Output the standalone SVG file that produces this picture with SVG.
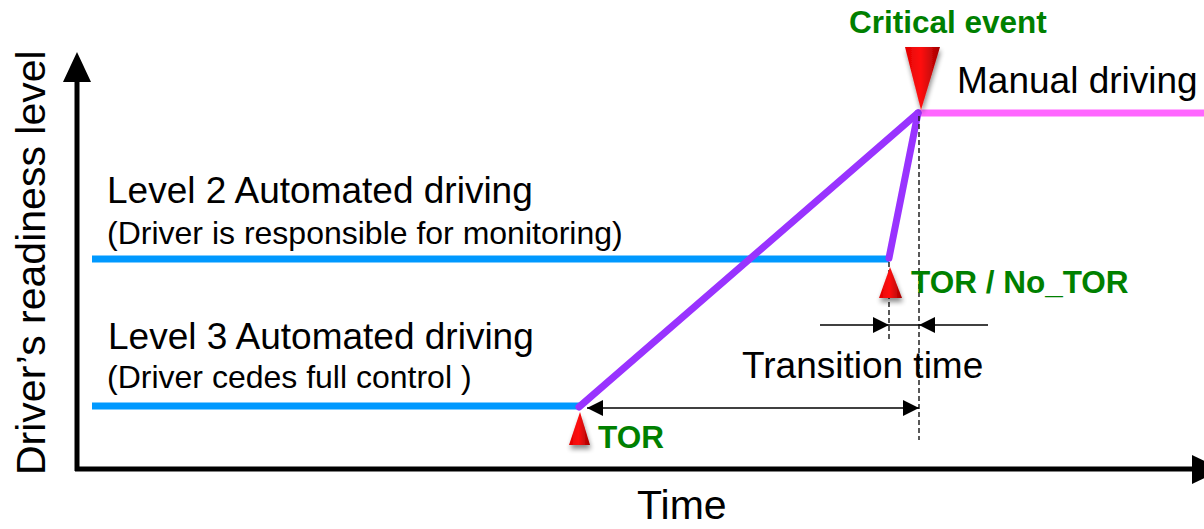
<svg xmlns="http://www.w3.org/2000/svg" width="1204" height="529" viewBox="0 0 1204 529">
<style>
.lbl{font-family:"Liberation Sans",Arial,sans-serif;fill:#000}
.big{font-size:37px}
.sub{font-size:32px}
.grn{font-family:"Liberation Sans",Arial,sans-serif;font-weight:bold;font-size:31.5px;fill:#008000}
.axis{stroke:#000;stroke-width:5;fill:none}
.blue{stroke:#0099FF;stroke-width:7;fill:none}
.purple{stroke:#9933FF;stroke-width:7;fill:none;stroke-linecap:round}
.magenta{stroke:#FF66FF;stroke-width:7;fill:none}
.dash{stroke:#222;stroke-width:1.5;stroke-dasharray:5 3;fill:none}
.dim{stroke:#000;stroke-width:1.5;fill:none}
</style>
<defs>
<linearGradient id="redg" x1="0" y1="0" x2="1" y2="0">
<stop offset="0" stop-color="#E00000"/>
<stop offset="0.45" stop-color="#FF1010"/>
<stop offset="1" stop-color="#A00000"/>
</linearGradient>
<filter id="shadow" x="-50%" y="-50%" width="200%" height="200%">
<feGaussianBlur in="SourceAlpha" stdDeviation="2.5"/>
<feOffset dx="1" dy="4" result="b"/>
<feComponentTransfer><feFuncA type="linear" slope="0.45"/></feComponentTransfer>
<feMerge><feMergeNode/><feMergeNode in="SourceGraphic"/></feMerge>
</filter>
<marker id="ah" viewBox="0 0 16 16" refX="16" refY="8" markerWidth="16" markerHeight="16" markerUnits="userSpaceOnUse" orient="auto-start-reverse">
<path d="M0,0 L16,8 L0,16 Z" fill="#000"/>
</marker>
</defs>

<g id="axes">
<line class="axis" x1="77" y1="80" x2="77" y2="471"/>
<line class="axis" x1="75" y1="469" x2="1194" y2="469"/>
<polygon points="77,52 63,82 91,82" fill="#000"/>
<polygon points="1192,455 1222,469.5 1192,484" fill="#000"/>
<text class="lbl" font-size="41" transform="translate(45,475) rotate(-90)">Driver’s readiness level</text>
<text class="lbl" font-size="41" x="637" y="519">Time</text>
</g>

<g id="level2">
<line class="blue" x1="92" y1="259" x2="889" y2="259"/>
<text class="lbl big" x="107" y="203">Level 2 Automated driving</text>
<text class="lbl sub" x="107" y="244">(Driver is responsible for monitoring)</text>
</g>

<g id="level3">
<line class="blue" x1="92" y1="406" x2="579" y2="406"/>
<text class="lbl big" x="108" y="349">Level 3 Automated driving</text>
<text class="lbl sub" x="107" y="388">(Driver cedes full control )</text>
</g>

<g id="manual">
<line class="magenta" x1="918" y1="113" x2="1204" y2="113"/>
<text class="lbl big" x="957" y="93">Manual driving</text>
</g>

<g id="connectors">
<line class="purple" x1="579" y1="407" x2="918" y2="113"/>
<line class="purple" x1="889" y1="258" x2="918" y2="113"/>
<line class="dash" x1="919" y1="116" x2="919" y2="440"/>
<line class="dash" x1="889" y1="262" x2="889" y2="340"/>
<line class="dim" x1="587" y1="408" x2="919" y2="408" marker-start="url(#ah)" marker-end="url(#ah)"/>
<line class="dim" x1="820" y1="325" x2="889" y2="325" marker-end="url(#ah)"/>
<line class="dim" x1="889" y1="325" x2="919" y2="325"/>
<line class="dim" x1="988" y1="325" x2="919" y2="325" marker-end="url(#ah)"/>
</g>

<g id="critical-event">
<polygon points="905,47 940,47 921,110" fill="url(#redg)" filter="url(#shadow)"/>
<text class="grn" x="849" y="33">Critical event</text>
</g>

<g id="tor-l2">
<polygon points="890,267 902,298 879,298" fill="url(#redg)" filter="url(#shadow)"/>
<text class="grn" x="911" y="293">TOR / No_TOR</text>
</g>

<g id="tor-l3">
<polygon points="580,412 590,445 569,445" fill="url(#redg)" filter="url(#shadow)"/>
<text class="grn" x="598" y="448">TOR</text>
</g>

<g id="transition">
<text class="lbl big" x="742" y="378">Transition time</text>
</g>
</svg>
